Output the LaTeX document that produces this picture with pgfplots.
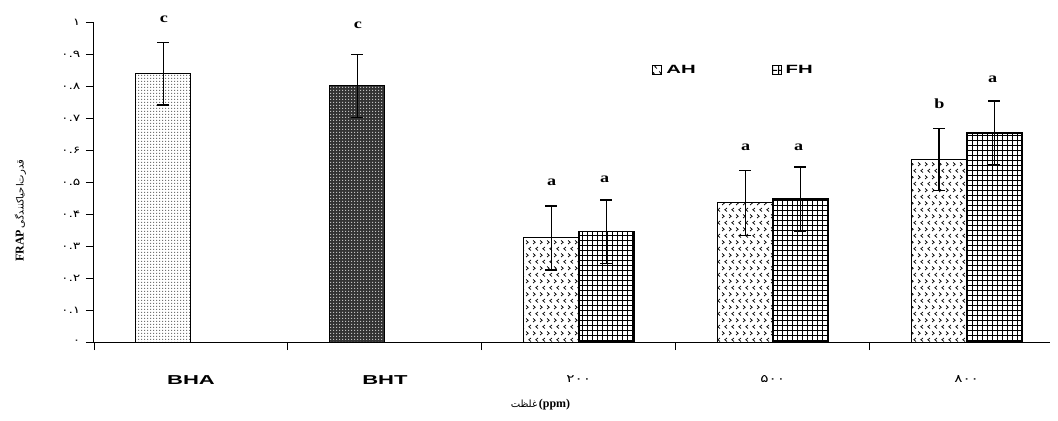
\documentclass[border=0pt]{standalone}
\usepackage{fontspec}
\setmainfont{Liberation Sans}
\newfontfamily\arabicfont[Script=Arabic]{DejaVu Sans}
\newfontfamily\serifb{Liberation Serif}
\TeXXeTstate=1
\usepackage{graphicx}
\usepackage{pgfplots}
\pgfplotsset{compat=1.18}
\usetikzlibrary{patterns}

\pgfdeclarepatternformonly{fdots}{\pgfpointorigin}{\pgfpoint{3bp}{3bp}}{\pgfpoint{3bp}{3bp}}{%
  \pgfpathrectangle{\pgfpointorigin}{\pgfpoint{1.5bp}{1.5bp}}\pgfusepath{fill}}
\pgfdeclarepatternformonly{chev}{\pgfpoint{-0.5bp}{-0.5bp}}{\pgfpoint{7.5bp}{13.5bp}}{\pgfpoint{7bp}{13bp}}{%
  \pgfsetlinewidth{0.7bp}%
  \pgfpathmoveto{\pgfpoint{1bp}{11.5bp}}\pgfpathlineto{\pgfpoint{3.2bp}{9.75bp}}\pgfpathlineto{\pgfpoint{1bp}{8bp}}%
  \pgfpathmoveto{\pgfpoint{6bp}{5bp}}\pgfpathlineto{\pgfpoint{3.8bp}{3.25bp}}\pgfpathlineto{\pgfpoint{6bp}{1.5bp}}%
  \pgfusepath{stroke}}
\pgfdeclarepatternformonly{fgrid}{\pgfpointorigin}{\pgfpoint{5.4bp}{5.4bp}}{\pgfpoint{5.4bp}{5.4bp}}{%
  \pgfpathrectangle{\pgfpointorigin}{\pgfpoint{5.4bp}{1.1bp}}%
  \pgfpathrectangle{\pgfpointorigin}{\pgfpoint{1.1bp}{5.4bp}}\pgfusepath{fill}}

\newcommand{\sx}[1]{\scalebox{1.7}[1]{#1}}
\newcommand{\pd}[1]{\scalebox{1.4}[1]{\arabicfont\fontsize{10}{11}\selectfont #1}}
\newcommand{\px}[1]{\scalebox{1.4}[1]{\arabicfont\fontsize{11}{12}\selectfont #1}}
\newcommand{\lt}[1]{{\serifb\bfseries\fontsize{14}{16}\selectfont\scalebox{1.3}[1]{#1}}}

\begin{document}
\begin{tikzpicture}
\begin{axis}[
  at={(0,0)}, anchor=south west,
  scale only axis, width=956bp, height=320bp,
  xmin=-0.5, xmax=4.43, ymin=0, ymax=1,
  clip=false,
  axis x line*=bottom, axis y line*=left,
  axis line style={-, line width=1bp, black},
  ytick={0,0.1,0.2,0.3,0.4,0.5,0.6,0.7,0.8,0.9,1},
  yticklabels={\pd{۰},\pd{۰.۱},\pd{۰.۲},\pd{۰.۳},\pd{۰.۴},\pd{۰.۵},\pd{۰.۶},\pd{۰.۷},\pd{۰.۸},\pd{۰.۹},\pd{۱}},
  yticklabel style={xshift=-2bp},
  xtick={-0.5,0.5,1.5,2.5,3.5},
  xticklabels={},
  extra x ticks={0,1,2,3,4},
  extra x tick labels={\sx{\bfseries\fontsize{13}{15}\selectfont BHA},\sx{\bfseries\fontsize{13}{15}\selectfont BHT},\px{۲۰۰},\px{۵۰۰},\px{۸۰۰}},
  extra x tick style={major tick length=0pt, xticklabel style={yshift=-30bp}},
  tick align=outside, major tick length=8bp,
  tick style={black, line width=0.9bp},
  legend style={at={(0.669,0.85)}, anchor=center, draw=none, fill=none,
    legend columns=2, /tikz/every even column/.append style={column sep=74bp},
    font=\bfseries\fontsize{12}{14}\selectfont},
]
\addplot[ybar, bar width=0.284, bar shift=0pt, draw=black, line width=1bp,
  pattern=fdots, pattern color=black!55, forget plot,
  error bars/.cd, y dir=both, y explicit,
  error bar style={line width=1.3bp, black},
  error mark options={rotate=90, black, line width=1.3bp, mark size=6bp}]
  coordinates {(-0.142,0.838) +- (0,0.097)};
\addplot[ybar, bar width=0.284, bar shift=0pt, draw=black, line width=1bp,
  fill=black!80, postaction={pattern=fdots, pattern color=white!75!black}, forget plot,
  error bars/.cd, y dir=both, y explicit,
  error bar style={line width=1.3bp, black},
  error mark options={rotate=90, black, line width=1.3bp, mark size=6bp}]
  coordinates {(0.858,0.800) +- (0,0.098)};
\addplot[ybar, bar width=0.284, bar shift=0pt, draw=black, line width=1bp,
  pattern=chev, pattern color=black,
  legend image code/.code={\draw[draw=black, line width=0.9bp, pattern=chev, pattern color=black] (0bp,-4.5bp) rectangle (9bp,4.5bp);},
  error bars/.cd, y dir=both, y explicit,
  error bar style={line width=1.3bp, black},
  error mark options={rotate=90, black, line width=1.3bp, mark size=6bp}]
  coordinates {(1.858,0.325) +- (0,0.100) (2.858,0.435) +- (0,0.102) (3.858,0.571) +- (0,0.097)};
\addlegendentry{\,\sx{AH}}
\addplot[ybar, bar width=0.284, bar shift=0pt, draw=black, line width=1.6bp,
  pattern=fgrid, pattern color=black,
  legend image code/.code={\draw[draw=black, line width=0.9bp, pattern=fgrid, pattern color=black] (0bp,-4.5bp) rectangle (9bp,4.5bp);},
  error bars/.cd, y dir=both, y explicit,
  error bar style={line width=1.3bp, black},
  error mark options={rotate=90, black, line width=1.3bp, mark size=6bp}]
  coordinates {(2.142,0.345) +- (0,0.099) (3.142,0.447) +- (0,0.100) (4.142,0.653) +- (0,0.100)};
\addlegendentry{\,\sx{FH}}

\node at (axis cs:-0.139,1.01) {\lt{c}};
\node at (axis cs:0.861,0.99) {\lt{c}};
\node at (axis cs:1.86,0.50) {\lt{a}};
\node at (axis cs:2.134,0.51) {\lt{a}};
\node at (axis cs:2.86,0.61) {\lt{a}};
\node at (axis cs:3.134,0.61) {\lt{a}};
\node at (axis cs:3.86,0.745) {\lt{b}};
\node at (axis cs:4.134,0.82) {\lt{a}};

\node[rotate=90] at (rel axis cs:-0.077,0.41) {{\serifb\bfseries\fontsize{12}{14}\selectfont FRAP}\,{\arabicfont\fontsize{10}{12}\selectfont\beginR قدرت‌احیاکنندگی\endR}};
\node at (rel axis cs:0.467,-0.197) {{\arabicfont\fontsize{10}{12}\selectfont\beginR غلظت\endR}\,{\serifb\bfseries\fontsize{12}{14}\selectfont(ppm)}};
\end{axis}
\pgfresetboundingbox
\path[use as bounding box] (-94bp,-79bp) rectangle (964bp,342bp);
\end{tikzpicture}
\end{document}
